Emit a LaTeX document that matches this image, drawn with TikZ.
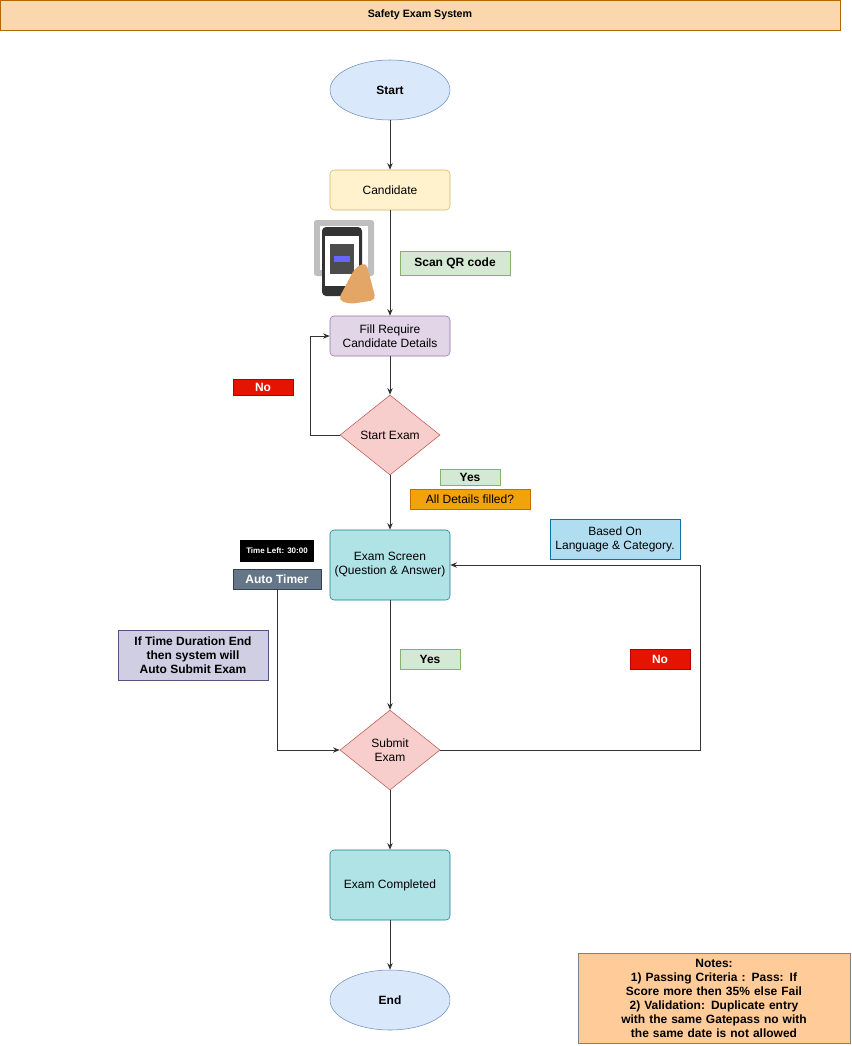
\documentclass[tikz,border=0pt]{standalone}
\usepackage{fontspec}
\setmainfont{Liberation Sans}
\usetikzlibrary{shapes.geometric,arrows.meta}
\definecolor{titlefill}{HTML}{FAD7AC}\definecolor{titledraw}{HTML}{B46504}
\definecolor{bluefill}{HTML}{DAE8FC}\definecolor{bluedraw}{HTML}{6C8EBF}
\definecolor{yelfill}{HTML}{FFF2CC}\definecolor{yeldraw}{HTML}{D6B656}
\definecolor{grnfill}{HTML}{D5E8D4}\definecolor{grndraw}{HTML}{82B366}
\definecolor{purfill}{HTML}{E1D5E7}\definecolor{purdraw}{HTML}{9673A6}
\definecolor{redfill}{HTML}{F8CECC}\definecolor{reddraw}{HTML}{B85450}
\definecolor{tealfill}{HTML}{B0E3E6}\definecolor{tealdraw}{HTML}{0E8088}
\definecolor{skyfill}{HTML}{B1DDF0}\definecolor{skydraw}{HTML}{10739E}
\definecolor{nored}{HTML}{E51400}\definecolor{nodraw}{HTML}{B20000}
\definecolor{orfill}{HTML}{F0A30A}\definecolor{ordraw}{HTML}{BD7000}
\definecolor{slatefill}{HTML}{647687}\definecolor{slatedraw}{HTML}{314354}
\definecolor{lavfill}{HTML}{D0CEE2}\definecolor{lavdraw}{HTML}{56517E}
\definecolor{notefill}{HTML}{FFCC99}

\begin{document}
\begin{tikzpicture}[x=0.75pt,y=-0.75pt,
	every node/.style={font=\fontsize{9}{10.5}\selectfont, inner sep=1pt, align=center},
	box/.style={draw, rounded corners=3pt, minimum width=90pt, minimum height=30pt},
	term/.style={ellipse, draw=bluedraw, fill=bluefill, minimum width=90pt, minimum height=45pt, font=\fontsize{9}{10.5}\selectfont\bfseries},
	decision/.style={diamond, draw=reddraw, fill=redfill, minimum width=75pt, minimum height=60pt, aspect=1.25},
	tag/.style={draw, font=\fontsize{9}{10.5}\selectfont\bfseries},
	yes/.style={tag, draw=grndraw, fill=grnfill, minimum width=45pt, minimum height=12pt},
	no/.style={tag, draw=nodraw, fill=nored, text=white, minimum width=45pt, minimum height=12pt},
	flow/.style={-{Stealth[length=5pt,width=4pt]}, line width=0.6pt, draw=black!80}]

% canvas %{{{2

	\useasboundingbox (0,0) rectangle (851,1046);
	\node[draw=titledraw, fill=titlefill, minimum width=630pt, minimum height=22.5pt,
		font=\fontsize{8}{10}\selectfont\bfseries] (title) at (420,15) {Safety Exam System};

% main flow %{{{2

	\node[term] (start) at (390,90) {Start};
	\node[box, draw=yeldraw, fill=yelfill] (cand) at (390,190) {Candidate};
	\node[box, draw=purdraw, fill=purfill] (fill) at (390,336) {Fill Require\\Candidate Details};
	\node[decision] (sexam) at (390,435) {Start Exam};
	\node[box, draw=tealdraw, fill=tealfill, minimum height=52.5pt] (screen) at (390,565) {Exam Screen\\(Question \& Answer)};
	\node[decision] (submit) at (390,750) {Submit\\Exam};
	\node[box, draw=tealdraw, fill=tealfill, minimum height=52.5pt] (done) at (390,885) {Exam Completed};
	\node[term] (end) at (390,1000) {End};

% phone %{{{2

	\fill[black!25, rounded corners=2pt] (314,220) rectangle (374,276);
	\fill[white] (320,226) rectangle (368,270);
	\fill[black!80, rounded corners=3pt] (322,227) rectangle (362,296);
	\fill[white] (325,236) rectangle (359,286);
	\fill[black!70] (330,244) rectangle (354,274);
	\fill[blue!60] (334,256) rectangle (350,262);
	\fill[brown!60!orange!70, rounded corners=4pt] (355,268) -- (366,262) -- (376,300) -- (350,304) -- (338,300) -- cycle;

% labels %{{{2

	\node[yes, minimum width=82.5pt, minimum height=18pt] (scan) at (455,263) {Scan QR code};
	\node[no] (no1) at (263,387) {No};
	\node[yes] (yes1) at (470,477) {Yes};
	\node[tag, draw=ordraw, fill=orfill, minimum width=90pt, minimum height=15pt, font=\fontsize{9}{10.5}\selectfont] (filled) at (470,499) {All Details filled?};
	\node[draw=skydraw, fill=skyfill, minimum width=97.5pt, minimum height=30pt] (based) at (615,539) {Based On\\Language \& Category.};
	\node[fill=black, text=white, minimum width=55.5pt, minimum height=16.5pt, font=\fontsize{6}{7}\selectfont\bfseries] (clock) at (277,551) {Time Left: 30:00};
	\node[tag, draw=slatedraw, fill=slatefill, text=white, minimum width=66pt, minimum height=15pt] (timer) at (277,579) {Auto Timer};
	\node[tag, draw=lavdraw, fill=lavfill, minimum width=112.5pt, minimum height=37.5pt] (auto) at (193,655) {If Time Duration End\\then system will\\Auto Submit Exam};
	\node[yes, minimum height=15pt] (yes2) at (430,659) {Yes};
	\node[no, minimum height=15pt] (no2) at (660,659) {No};
	\node[tag, draw=black!50, fill=notefill, minimum width=204pt, minimum height=67.5pt, text width=196pt] (notes) at (714,998)
		{Notes:\\1) Passing Criteria : Pass: If Score more then 35\% else Fail\\2) Validation: Duplicate entry with the same Gatepass no with the same date is not allowed};

% connectors %{{{2

	\coordinate (loopL) at (310,435);
	\coordinate (loopR) at (700,750);
	\coordinate (timerB) at (277,750);
	\draw[flow] (start) -- (cand);
	\draw[flow] (cand) -- (fill);
	\draw[flow] (fill) -- (sexam);
	\draw[flow] (sexam.west) -- (loopL) |- (fill.west);
	\draw[flow] (sexam) -- (screen);
	\draw[flow] (screen) -- (submit);
	\draw[flow] (submit.east) -- (loopR) |- (screen.east);
	\draw[flow] (timer.south) -- (timerB) -- (submit.west);
	\draw[flow] (submit) -- (done);
	\draw[flow] (done) -- (end);

\end{tikzpicture}
\end{document}
